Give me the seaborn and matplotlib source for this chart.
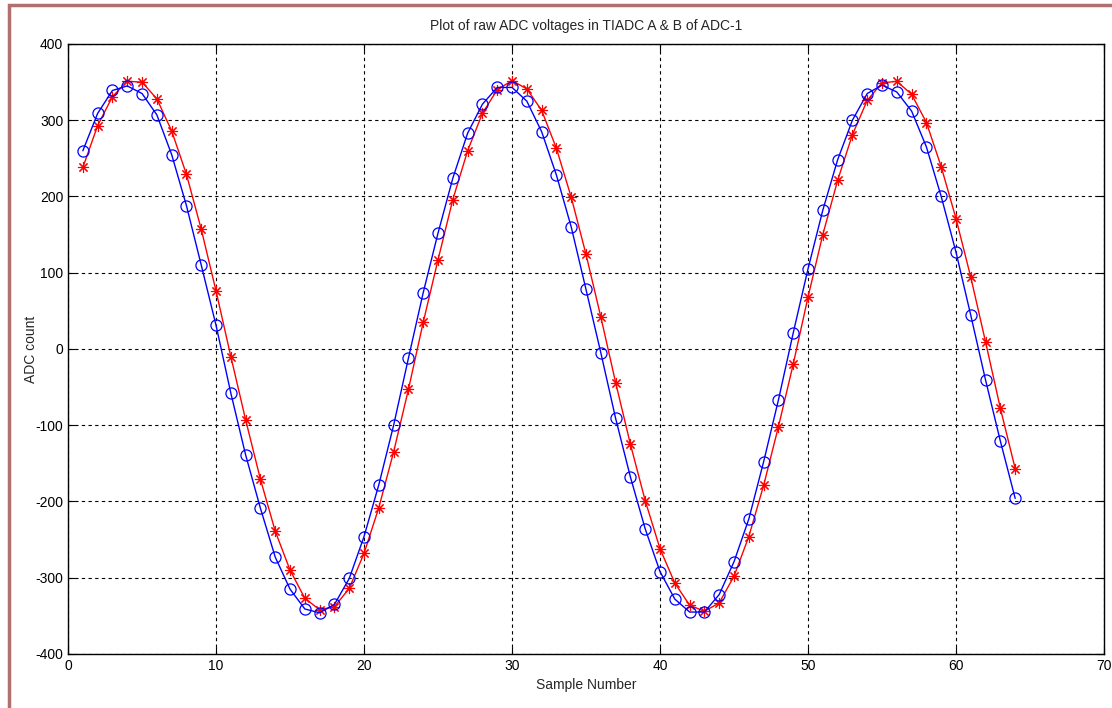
import numpy as np
import pandas as pd
import seaborn as sns
import matplotlib.pyplot as plt
from matplotlib.patches import Rectangle

# ---------------------------------
# Data
# ---------------------------------
samples = list(range(1, 65))

adc_a = [260, 309, 339, 345, 335, 307, 255, 188, 110, 31,
         -58, -139, -209, -273, -315, -341, -346, -335, -301, -246,
         -178, -100, -12, 74, 152, 224, 283, 321, 343, 343,
         325, 285, 228, 160, 78, -5, -91, -168, -236, -292,
         -328, -345, -345, -322, -279, -223, -148, -67, 21, 105,
         182, 248, 300, 335, 346, 337, 312, 265, 200, 127,
         44, -41, -121, -196]

adc_b = [238, 293, 331, 351, 350, 328, 286, 229, 157, 76,
         -10, -93, -171, -239, -290, -327, -342, -338, -314, -268,
         -208, -135, -53, 35, 117, 196, 260, 309, 340, 352,
         341, 313, 263, 199, 124, 42, -44, -125, -199, -262,
         -307, -336, -344, -333, -298, -246, -179, -102, -20, 68,
         150, 221, 281, 326, 349, 351, 334, 297, 239, 171,
         94, 9, -78, -157]

x_ticks = [0, 10, 20, 30, 40, 50, 60, 70]
y_ticks = [-400, -300, -200, -100, 0, 100, 200, 300, 400]

data = pd.DataFrame({'sample': samples, 'a': adc_a, 'b': adc_b})

# ---------------------------------
# Plot
# ---------------------------------
sns.set_theme(style="ticks")
plt.rcParams['font.family'] = ['Liberation Sans', 'DejaVu Sans']
plt.rcParams['axes.unicode_minus'] = False

f = plt.figure(figsize=(11.12, 7.08), dpi=100)
ax = f.add_axes([0.0612, 0.0763, 0.9316, 0.8616])

# Red (TIADC B) with MATLAB-like asterisk, then blue (TIADC A)
sns.lineplot(data=data, x='sample', y='b', ax=ax, color='red',
             marker=(8, 2, 0), markersize=8, markeredgewidth=0.8,
             markeredgecolor='red', linewidth=1.0)
sns.lineplot(data=data, x='sample', y='a', ax=ax, color='blue',
             marker='o', markersize=8, markerfacecolor='none',
             markeredgecolor='blue', markeredgewidth=0.9,
             linewidth=1.0)

# Axes config (MATLAB look)
ax.set_xlim(0, 70)
ax.set_ylim(-400, 400)
ax.set_xticks(x_ticks)
ax.set_yticks(y_ticks)
ax.grid(True, color='black', linestyle=(0, (3, 3)), linewidth=0.8)
ax.tick_params(direction='in', length=5, width=0.8, labelsize=10,
               colors='black', top=True, right=True)
for s in ax.spines.values():
    s.set_visible(True)
    s.set_linewidth(1.0)
    s.set_color('black')

ax.set_title("Plot of raw ADC voltages in TIADC A & B of ADC-1",
             fontsize=10, pad=10)
ax.set_xlabel("Sample Number", fontsize=10, labelpad=4)
ax.set_ylabel("ADC count", fontsize=10, labelpad=-2)

# Figure frame
f.patches.append(Rectangle((0.0085, -0.05), 1.1, 1.043,
                           transform=f.transFigure, fill=False,
                           edgecolor='#b07070', linewidth=2.5))

f.savefig('out.png', dpi=100)
